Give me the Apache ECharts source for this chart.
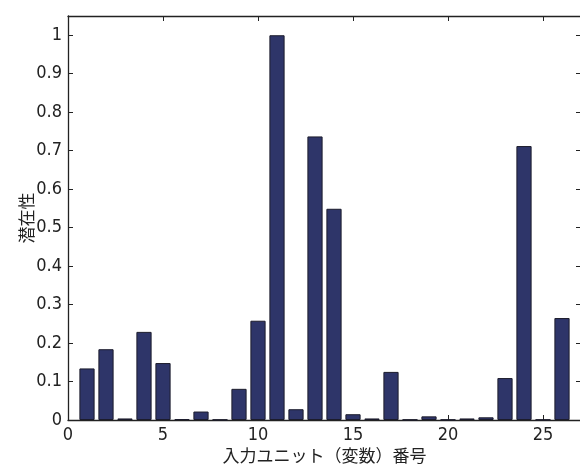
<!DOCTYPE html>
<html><head><meta charset="utf-8">
<script src="https://cdn.jsdelivr.net/npm/echarts@6/dist/echarts.min.js"></script>
<style>html,body{margin:0;padding:0;background:#fff}#c{width:580px;height:466px}</style>
</head><body><div id="c"></div>
<script>
const units = [1,2,3,4,5,6,7,8,9,10,11,12,13,14,15,16,17,18,19,20,21,22,23,24,25,26];
const potential = [0.134,0.184,0.004,0.229,0.148,0.002,0.022,0.001,0.081,0.258,1.0,0.028,0.737,0.549,0.015,0.004,0.125,0.001,0.0095,0.001,0.004,0.007,0.109,0.712,0.001,0.265];
const xTicks = [0,5,10,15,20,25];
const yTicks = [0,0.1,0.2,0.3,0.4,0.5,0.6,0.7,0.8,0.9,1];
const xName = '入力ユニット（変数）番号';
const yName = '潜在性';

const gridLeft = 68, gridTop = 16, gridWidth = 513, gridHeight = 404;
const xMax = 27;
const font = '"Liberation Sans Narrow","DejaVu Sans Condensed","Noto Sans CJK JP",sans-serif';
const chart = echarts.init(document.getElementById('c'));
const axisLine = {show:true, onZero:false, lineStyle:{color:'#222', width:1.3}};
const tick = {show:true, inside:true, length:5, lineStyle:{color:'#222'}};
chart.setOption({
  animation:false,
  grid:{left:gridLeft, top:gridTop, width:gridWidth, height:gridHeight, containLabel:false, outerBoundsMode:'none'},
  xAxis:[{
    type:'value', min:0, max:xMax, interval:5, position:'bottom',
    axisLine, axisTick:tick, splitLine:{show:false},
    axisLabel:{fontFamily:font, fontSize:18, color:'#222', margin:6,
      formatter:v=>xTicks.includes(v)?String(v):''},
    name:xName, nameLocation:'middle', nameGap:27, nameMoveOverlap:false,
    nameTextStyle:{fontFamily:'"Noto Sans CJK JP",sans-serif', fontSize:17, color:'#222'}
  },{
    type:'value', min:0, max:xMax, interval:5, position:'top',
    axisLine, axisTick:tick, axisLabel:{show:false}, splitLine:{show:false}
  }],
  yAxis:[{
    type:'value', min:0, max:1.05, interval:0.1, position:'left',
    axisLine, axisTick:tick, splitLine:{show:false},
    axisLabel:{fontFamily:font, fontSize:18, color:'#222', margin:6,
      formatter:v=>{const t=yTicks.find(k=>Math.abs(k-v)<1e-6); return t===undefined?'':String(t);}},
    name:yName, nameLocation:'middle', nameGap:33, nameRotate:90, nameMoveOverlap:false,
    nameTextStyle:{fontFamily:'"Noto Sans CJK JP",sans-serif', fontSize:17, color:'#222'}
  },{
    type:'value', min:0, max:1.05, interval:0.1, position:'right',
    axisLine, axisTick:tick, axisLabel:{show:false}, splitLine:{show:false}
  }],
  series:[{
    type:'bar',
    data: units.map((u,i)=>[u, potential[i]]),
    barWidth: gridWidth / xMax * 0.8,
    itemStyle:{color:'#2e3569', borderColor:'#1c1c2c', borderWidth:1}
  }]
});
</script></body></html>
